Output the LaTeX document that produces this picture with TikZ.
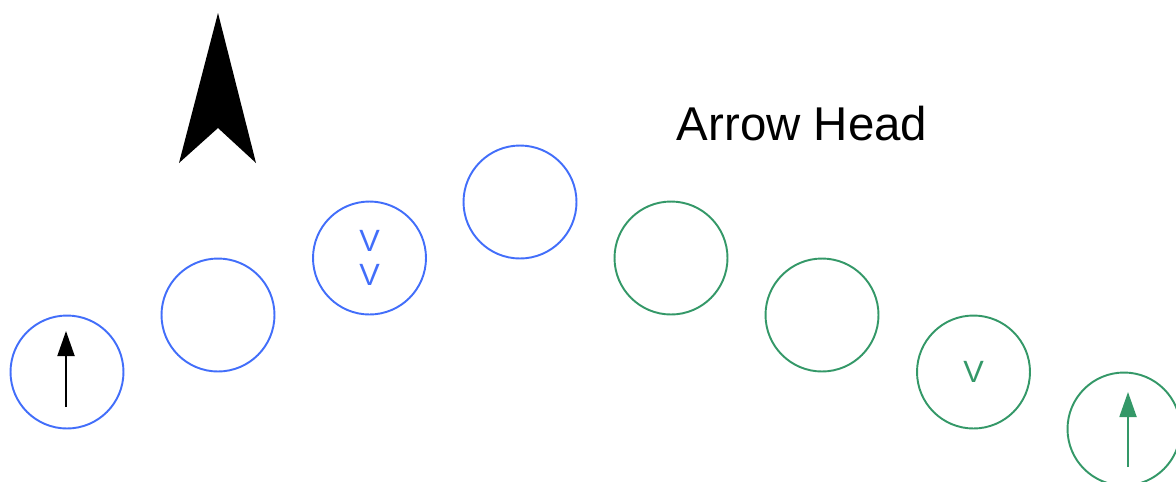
\documentclass[tikz,border=0pt]{standalone}
\usepackage{fontspec}
\setmainfont{Liberation Sans}
\usepackage{tikz}
\usetikzlibrary{arrows.meta,calc}

\definecolor{cblue}{RGB}{66,110,250}
\definecolor{cgreen}{RGB}{52,152,104}

\begin{document}
\begin{tikzpicture}[x=0.02cm,y=-0.02cm,
roundnode/.style={circle, draw=#1, line width=1.1pt, minimum size=2.26cm, inner sep=0pt, text=#1,
  font=\fontsize{17.5}{21}\selectfont},
stem/.style={-{Triangle[length=0.5cm,width=0.34cm]}, line width=1.1pt},
]
\useasboundingbox (0,0) rectangle (1176,481);

\node[roundnode=cblue] (c1) at (67,372) {};
\node[roundnode=cblue] (c2) at (218,315) {};
\node[roundnode=cblue, align=center] (c3) at (369.5,258) {V\\[-2pt]V};
\node[roundnode=cblue] (c4) at (520,202) {};

\node[roundnode=cgreen] (c5) at (671,258) {};
\node[roundnode=cgreen] (c6) at (822,315) {};
\node[roundnode=cgreen] (c7) at (973.5,372) {V};
\node[roundnode=cgreen] (c8) at (1124,429) {};

\node[font=\fontsize{27}{32}\selectfont] (title) at (802,124) {Arrow Head};

% arrows in the end circles
\coordinate (s1) at ($(c1)+(-1,35)$);
\coordinate (t1) at ($(c1)+(-1,-41)$);
\coordinate (s8) at ($(c8)+(4,38)$);
\coordinate (t8) at ($(c8)+(4,-37)$);
\draw[stem, black] (s1) -- (t1);
\draw[stem, cgreen] (s8) -- (t8);

% big head
\fill[black] (218,13) -- (256,163) -- (218,128) -- (179,163) -- cycle;

\end{tikzpicture}
\end{document}
